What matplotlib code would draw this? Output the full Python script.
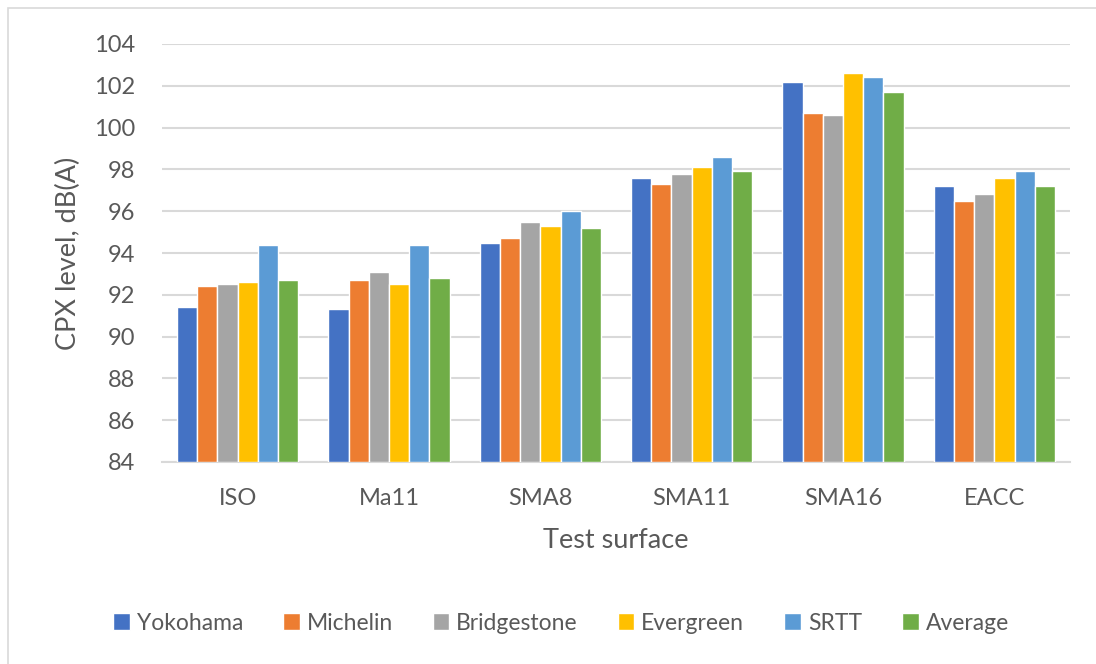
import matplotlib
matplotlib.use("Agg")
import matplotlib.pyplot as plt
import numpy as np
from matplotlib.patches import Rectangle

surfaces = ["ISO", "Ma11", "SMA8", "SMA11", "SMA16", "EACC"]
series_names = ["Yokohama", "Michelin", "Bridgestone", "Evergreen", "SRTT", "Average"]
yokohama = [91.4, 91.3, 94.5, 97.6, 102.2, 97.2]
michelin = [92.4, 92.7, 94.7, 97.3, 100.7, 96.5]
bridgestone = [92.5, 93.1, 95.5, 97.8, 100.6, 96.8]
evergreen = [92.6, 92.5, 95.3, 98.1, 102.6, 97.6]
srtt = [94.4, 94.4, 96.0, 98.6, 102.4, 97.9]
average = [92.7, 92.8, 95.2, 97.9, 101.7, 97.2]
colors = ["#4472C4", "#ED7D31", "#A5A5A5", "#FFC000", "#5B9BD5", "#70AD47"]

all_series = [yokohama, michelin, bridgestone, evergreen, srtt, average]

plt.rcParams['font.family'] = ['Lato', 'DejaVu Sans']
txt = "#595959"

fig = plt.figure(figsize=(10.96, 6.64), dpi=100)
ax = fig.add_axes([162/1096, 1-462/664, (1070-162)/1096, (462-44)/664])

fig.patches.append(Rectangle((8/1096, -0.1), 1.2, 1 - 8/664 + 0.1, transform=fig.transFigure,
                             fill=False, edgecolor="#D9D9D9", linewidth=1.2))

x = np.arange(len(surfaces))
w = 0.1335
base = 84
for i, (name, vals, c) in enumerate(zip(series_names, all_series, colors)):
    vals = np.array(vals)
    ax.bar(x + (i - 2.5) * w, vals - base, w, bottom=base, color=c, label=name,
           edgecolor="white", linewidth=1.0, zorder=3)

ax.set_xlim(-0.5, len(surfaces) - 0.5)
ax.set_ylim(84, 104)
ax.set_yticks(np.arange(84, 105, 2))
ax.set_xticks(x)
ax.set_xticklabels(surfaces)
ax.grid(axis='y', color="#D9D9D9", linewidth=1.5, zorder=0)
ax.set_axisbelow(True)
for s in ["top", "right", "left"]:
    ax.spines[s].set_visible(False)
ax.spines["bottom"].set_color("#D9D9D9")
ax.spines["bottom"].set_linewidth(1.5)
ax.tick_params(axis='both', length=0, labelsize=17, labelcolor=txt)
ax.tick_params(axis='x', pad=18.5)
ax.tick_params(axis='y', pad=19)
ax.set_xlabel("Test surface", fontsize=19.5, color=txt)
ax.set_ylabel("CPX level, dB(A)", fontsize=19.5, color=txt)
ax.xaxis.set_label_coords(0.5, (462 - 541) / 418)
ax.xaxis.label.set_va('center')
ax.yaxis.set_label_coords((68 - 162) / 908, 0.5)
ax.yaxis.label.set_va('center')

fig.legend(loc='center', bbox_to_anchor=(561/1096, 1 - 623/664), ncol=6, frameon=False,
           fontsize=16.5, handlelength=0.72, handleheight=0.72, handletextpad=0.3,
           columnspacing=1.75, labelcolor=txt)

fig.savefig("out.png", dpi=100)
